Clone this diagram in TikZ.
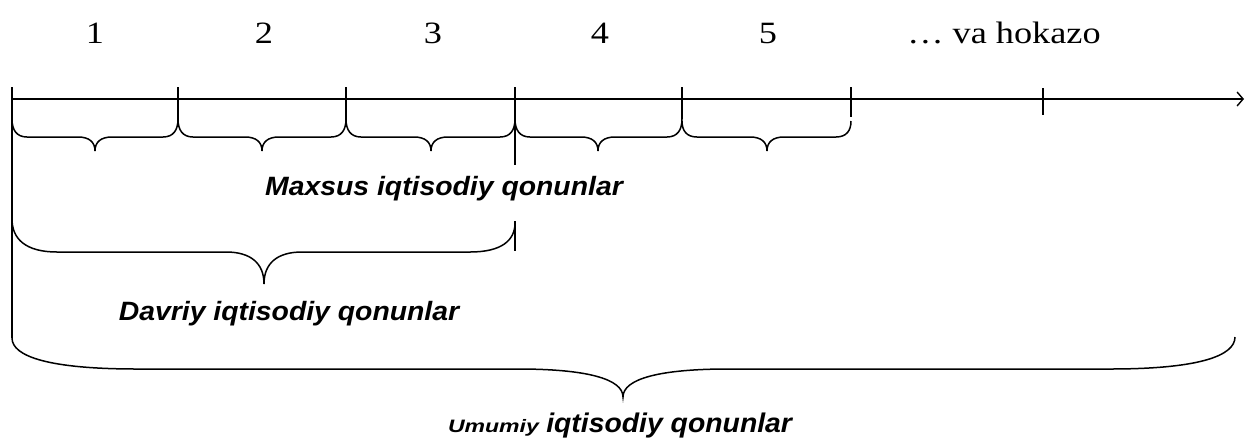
\documentclass[tikz,border=0pt]{standalone}
\usepackage{fontspec}
\setmainfont{Liberation Serif}
\setsansfont{Liberation Sans}
\usetikzlibrary{arrows.meta}
\newcommand{\bracepathx}[7]{% x1, x2, ytopL, ytopR, yh, xm, ytip
  \draw[brc] (#1,#3) .. controls (#1,{#3+0.6*(#5-#3)}) and ({#1+0.3*\ER},#5) .. ({#1+\ER},#5)
    -- ({#6-\TR},#5) .. controls ({#6-0.35*\TR},#5) and (#6,{#5+0.35*(#7-#5)}) .. (#6,#7)
    .. controls (#6,{#5+0.35*(#7-#5)}) and ({#6+0.35*\TR},#5) .. ({#6+\TR},#5)
    -- ({#2-\ER},#5) .. controls ({#2-0.3*\ER},#5) and (#2,{#4+0.6*(#5-#4)}) .. (#2,#4);}
\begin{document}
\begin{tikzpicture}[x=1pt,y=-1pt,
  ln/.style={line width=1.6pt,line cap=butt},
  brc/.style={line width=1.5pt},
  num/.style={font=\fontsize{31}{31}\selectfont,anchor=base,inner sep=0pt},
  lab/.style={font=\sffamily\bfseries\itshape\fontsize{26.5}{26.5}\selectfont,anchor=base,inner sep=0pt}]
\useasboundingbox (0,0) rectangle (1247,437);
% numbers
\node[num] (n1) at (95,43) {\scalebox{1.17}[1]{1}};
\node[num] (n2) at (264,43) {\scalebox{1.17}[1]{2}};
\node[num] (n3) at (433,43) {\scalebox{1.17}[1]{3}};
\node[num] (n4) at (600,43) {\scalebox{1.17}[1]{4}};
\node[num] (n5) at (768,43) {\scalebox{1.17}[1]{5}};
\node[num] (n6) at (1004,43) {\scalebox{1.17}[1]{\ldots\ va hokazo}};
% axis
\coordinate (a0) at (12,99);
\coordinate (aend) at (1244,99);
\draw[ln,-{Straight Barb[length=6pt,width=14pt,line width=1.4pt]}] (a0) -- (aend);
% ticks
\draw[ln] (12,87) -- (12,338);
\draw[ln] (178,87) -- (178,119);
\draw[ln] (346,87) -- (346,119);
\draw[ln] (515,87) -- (515,165);
\draw[ln] (682,87) -- (682,119);
\draw[ln] (851,87) -- (851,117);
\draw[ln] (1043,88) -- (1043,115);
\draw[ln] (515,221) -- (515,251);
% small braces
\def\ER{15}\def\TR{17}
\bracepathx{12}{178}{119}{119}{137}{95}{151}
\bracepathx{178}{346}{119}{119}{137}{262}{151}
\bracepathx{346}{515}{119}{119}{137}{431}{151}
\bracepathx{515}{682}{119}{119}{137}{598}{151}
\bracepathx{682}{851}{121}{121}{137}{767}{151}
% medium brace
\def\ER{45}\def\TR{38}
\bracepathx{12}{515}{219}{223}{252}{264}{284}
% big brace
\def\ER{125}\def\TR{105}
\bracepathx{12}{1235}{338}{337}{369}{623}{397}
% labels
\node[lab] (maxsus) at (444,195) {\scalebox{1.07}[1]{Maxsus iqtisodiy qonunlar}};
\node[lab] (davriy) at (289,320) {\scalebox{1.07}[1]{Davriy iqtisodiy qonunlar}};
\node[lab] (umumiy) at (620,432) {\scalebox{1.28}[1]{\fontsize{18}{18}\selectfont Umumiy} \scalebox{1.05}[1]{\fontsize{27}{27}\selectfont iqtisodiy qonunlar}};
\end{tikzpicture}
\end{document}
